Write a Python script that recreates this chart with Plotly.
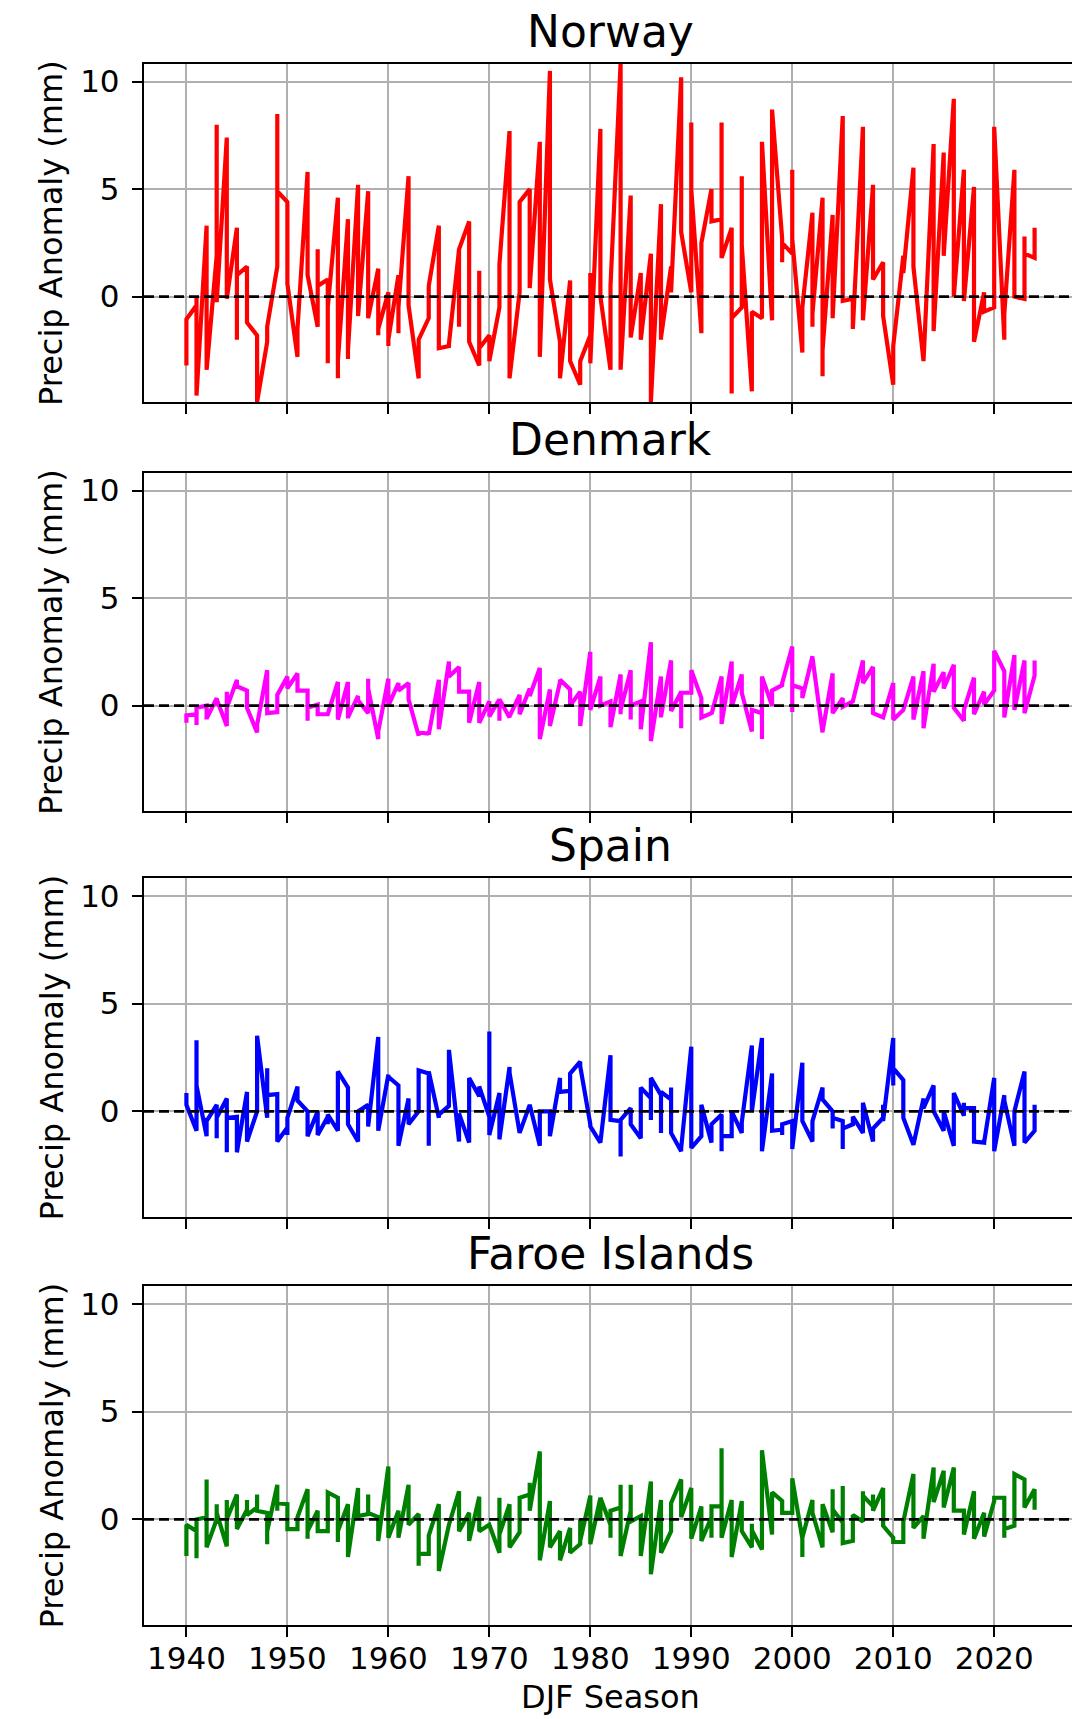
import plotly.graph_objects as go

# ---------------- data (three DJF months per season) ----------------
YEARS = list(range(1940, 2025))
COUNTRIES = ["Norway", "Denmark", "Spain", "Faroe Islands"]
COLORS = ["#ff0000", "#ff00ff", "#0000ff", "#008000"]
X_TICKS = [1940, 1950, 1960, 1970, 1980, 1990, 2000, 2010, 2020]
Y_TICKS = [0, 5, 10]

norway = [
    [-3.2, -2.4, -1.05], [-0.4, 0.0, -4.6], [3.3, 1.0, -3.4], [1.9, 8.0, -0.25], [7.4, 0.3, -0.1],
    [3.2, -2.0, 1.0], [1.4, 0.5, -1.2], [-1.8, -4.9, -4.9], [-2.1, -1.4, -1.4], [1.4, 8.5, 4.9],
    [4.4, 0.8, 0.6], [-2.8, -2.2, -1.5], [5.8, 1.0, 1.0], [-1.4, 2.2, 0.5], [0.8, -3.1, -0.5],
    [4.6, -3.8, -3.0], [3.6, -2.9, -2.5], [5.2, -0.9, -0.9], [4.9, -1.0, -1.0], [1.3, -1.8, -1.5],
    [0.2, -2.3, -2.0], [1.0, -1.7, -0.5], [5.6, -0.4, -0.4], [-3.8, -3.8, -2.0], [-1.0, 0.0, 0.5],
    [3.3, -2.4, -2.4], [-2.3, -2.2, -2.2], [2.2, -1.4, 2.2], [3.5, -2.1, -2.1], [-3.2, 1.2, -2.4],
    [-1.8, -2.0, -3.0], [-0.5, 0.8, 1.5], [7.7, -3.8, -3.8], [0.2, 2.4, 4.4], [5.0, 0.4, 0.4],
    [7.2, -2.8, -2.8], [10.5, 3.0, 0.8], [-2.1, -3.8, -3.8], [0.75, -3.0, -3.0], [-4.1, -4.1, -3.0],
    [-1.8, 1.1, -3.1], [7.8, 2.0, 0.0], [-3.4, -1.0, 0.5], [10.85, 2.0, -3.4], [4.7, -1.9, -1.9],
    [1.1, -2.0, -2.0], [2.0, -4.9, -4.9], [4.3, -2.0, -1.9], [1.4, 0.5, 0.2], [10.2, 6.0, 3.0],
    [0.2, 8.1, 5.0], [-1.7, 0.5, 2.5], [5.0, 3.5, 3.5], [3.6, 8.1, 1.8], [3.2, -4.5, -1.0],
    [-0.5, 5.6, 2.4], [-4.4, -0.7, -0.7], [-1.0, 7.2, 7.2], [-1.1, 8.7, 8.7], [2.7, 1.6, 2.5],
    [2.0, 5.9, 2.7], [-2.6, -2.6, -0.5], [3.9, -1.4, -0.8], [4.6, -3.7, -2.5], [3.8, -1.0, -1.0],
    [8.4, -0.2, -0.2], [-0.1, -1.5, -1.5], [7.9, -1.1, -1.1], [5.2, 0.8, 0.8], [1.6, -0.9, -0.9],
    [-4.1, -4.1, -2.3], [1.9, 1.1, 1.1], [6.0, 1.4, 1.4], [-3.0, -2.5, -3.0], [7.1, -1.6, -1.6],
    [6.7, 1.9, 1.9], [9.2, 0.0, 0.0], [5.9, -0.2, -0.2], [5.1, -2.1, -2.1], [0.2, -0.7, -0.7],
    [-0.5, 7.9, 7.9], [-2.0, -1.0, -0.8], [5.9, 2.0, 0.0], [-0.1, 2.8, 2.0], [1.8, 1.8, 3.2],
]

denmark = [
    [-0.8, -0.6, -0.45], [-0.4, -0.9, -0.1], [0.0, -0.65, -0.6], [0.35, 0.0, 0.3], [-0.95, 0.65, -0.1],
    [1.2, 0.9, 0.9], [0.7, 0.5, -0.1], [-1.25, -1.0, -0.9], [1.65, -0.35, -0.35], [-0.3, 0.3, 0.5],
    [1.35, 0.8, 0.8], [1.5, 0.7, 0.7], [0.7, -0.7, -0.1], [0.05, -0.4, -0.4], [-0.4, -0.4, -0.4],
    [1.1, -0.65, -0.65], [1.1, -0.6, -0.55], [0.45, 0.3, 0.25], [-0.35, 1.25, 0.8], [-1.55, -1.55, -1.2],
    [1.25, 0.0, 0.0], [1.05, 0.7, 0.7], [1.05, 0.3, 0.3], [-1.4, -1.25, -1.25], [-1.3, -1.35, -1.35],
    [1.2, -1.1, -1.1], [2.05, 1.35, 1.35], [1.8, 0.65, 0.65], [0.65, -0.8, -0.8], [1.1, -0.8, -0.8],
    [0.2, -0.5, -0.5], [0.3, -0.7, 0.3], [-0.55, -0.5, -0.5], [0.5, -0.4, -0.4], [0.8, 0.45, 0.45],
    [1.75, -1.55, -1.55], [0.75, -0.95, -0.95], [1.1, 1.2, 1.2], [0.75, 0.0, 0.0], [0.65, -0.95, -0.95],
    [2.5, -0.2, -0.2], [1.35, 0.0, 0.0], [0.2, -1.0, -1.0], [1.45, -0.4, -0.2], [1.65, -0.65, 0.0],
    [0.2, -1.1, -1.1], [2.95, -1.65, -1.65], [1.35, -0.55, -0.5], [2.1, -0.25, -0.25], [0.65, -1.05, 0.6],
    [0.6, 1.65, 1.65], [0.35, -0.55, -0.55], [-0.35, -0.4, -0.4], [1.35, -0.85, -0.85], [2.05, -0.05, -0.05],
    [1.45, 0.6, 0.6], [-1.2, -0.2, -0.2], [-0.35, -1.55, 1.35], [0.0, 0.7, 0.7], [0.95, 1.05, 1.05],
    [2.75, -0.3, 0.95], [0.8, 0.35, 0.35], [2.3, 2.0, 2.25], [-1.25, -1.0, -1.2], [1.5, -0.35, -0.35],
    [0.35, 0.0, -0.05], [0.2, 0.2, 0.2], [2.1, 1.05, 1.05], [1.8, -0.35, -0.35], [-0.55, -0.55, -0.55],
    [1.05, -0.65, -0.65], [-0.2, -0.2, -0.2], [1.35, -0.65, -0.65], [1.6, -1.05, -1.05], [1.95, 0.65, 0.65],
    [1.55, 0.8, 0.8], [1.9, -0.1, -0.1], [-0.7, -0.2, -0.2], [1.3, -0.4, -0.4], [0.65, 0.05, 0.05],
    [0.7, 2.55, 2.55], [1.6, -0.55, -0.55], [2.35, -0.2, -0.2], [2.1, -0.35, -0.35], [1.4, 1.4, 2.1],
]

spain = [
    [0.85, 0.5, 0.3], [-0.9, 3.3, 1.2], [-1.15, -0.3, -0.45], [0.3, -1.25, -0.3], [0.6, -1.9, -0.3],
    [-0.25, -1.9, -1.9], [0.9, -1.4, -1.4], [0.0, 3.5, 3.5], [-0.3, 2.0, 0.75], [0.8, -1.4, -1.4],
    [-0.75, -1.1, -0.3], [1.15, 0.8, 0.5], [0.0, -1.15, -1.15], [0.0, -1.1, -1.1], [-0.25, -0.6, -0.15],
    [-0.9, -0.5, 1.85], [1.1, 1.05, -0.6], [-1.4, -1.4, 0.0], [0.3, -0.7, -0.7], [3.45, -0.9, -0.9],
    [1.7, 1.6, 1.6], [1.2, -1.6, -1.6], [0.6, -0.6, -0.6], [0.0, 1.9, 1.9], [1.75, -1.6, 1.85],
    [-0.3, -0.15, -0.15], [0.25, 2.85, 2.85], [-1.4, -0.1, -0.1], [-1.45, 1.55, 1.55], [0.7, 1.15, 1.15],
    [-0.25, 3.7, -1.1], [0.85, -1.3, -1.3], [2.05, 2.0, 1.8], [-1.0, -1.0, -1.0], [0.3, 0.3, 0.3],
    [-1.6, -1.6, 0.0], [0.0, -1.15, -1.15], [1.55, 1.0, 0.9], [0.95, 0.0, 1.75], [2.3, 2.1, 2.1],
    [-0.6, -0.6, -0.7], [-1.45, -1.45, -1.45], [2.6, -0.4, -0.4], [-0.45, -2.1, -0.4], [0.15, -0.6, -0.6],
    [-1.25, 1.1, 1.1], [0.6, -0.4, 1.55], [0.75, -1.0, 0.9], [0.55, 1.1, -1.0], [-1.85, -1.7, -1.7],
    [3.0, -1.7, -1.7], [-1.15, 0.3, 0.3], [-1.45, -0.6, -0.6], [-0.15, -1.85, -1.15], [-1.15, 0.0, 0.0],
    [-1.0, -0.5, -0.5], [3.05, 2.0, 0.0], [3.4, -1.85, -1.85], [1.75, -0.9, -0.9], [-0.85, -1.1, -0.6],
    [-0.45, -1.75, -1.75], [2.25, -0.45, -0.45], [-1.4, -0.45, -0.45], [1.1, 0.55, 0.55], [0.0, -0.8, -0.3],
    [-0.45, -1.75, -0.8], [-0.6, -0.25, -0.25], [-1.0, 0.4, 0.4], [-1.4, -0.8, -0.8], [-0.3, 0.3, -0.45],
    [3.4, 1.2, 2.0], [1.45, -0.3, -0.3], [-1.55, -1.55, -1.55], [0.6, 0.15, 0.15], [1.2, 0.0, 0.0],
    [-0.9, 0.0, 0.0], [-1.6, 0.85, 0.85], [-0.2, 0.4, 0.15], [0.15, -1.4, -1.4], [-1.45, -1.3, -1.45],
    [1.55, -1.85, -1.85], [0.75, 0.75, 0.5], [-1.6, 0.0, 0.0], [1.85, -1.45, -1.45], [-0.9, 0.3, 0.3],
]

faroe = [
    [-1.7, -0.25, -0.25], [-0.55, -1.8, 0.0], [0.1, 1.85, -1.3], [0.0, 0.7, 0.3], [-1.25, 0.9, 0.0],
    [1.15, -0.45, -0.45], [0.45, 0.9, 0.2], [0.55, 1.15, 0.4], [0.3, -1.15, -0.55], [1.6, 0.4, 0.75],
    [0.7, -0.45, -0.45], [-0.45, 0.1, 0.1], [1.4, -0.9, -0.55], [0.4, -0.55, -0.55], [-0.55, 1.25, 1.25],
    [1.0, -1.05, -0.55], [0.7, -1.75, -1.75], [1.45, 0.15, 0.15], [0.25, 1.15, 0.3], [0.1, -1.0, -1.0],
    [2.45, -0.85, -0.85], [0.4, -0.85, -0.85], [1.6, -0.25, -0.25], [0.25, -2.15, -1.6], [-1.6, -0.75, -0.75],
    [0.7, -2.4, -2.4], [-0.25, -0.25, -0.25], [1.3, -0.55, -0.55], [0.3, -1.0, -1.0], [1.05, -0.55, -0.55],
    [-0.25, -0.25, -0.25], [-1.55, 1.0, -0.7], [0.7, -1.3, -1.3], [-0.6, 1.0, 1.0], [1.15, 1.7, 0.4],
    [3.15, -1.9, -1.9], [0.85, -1.3, -1.3], [-0.55, -1.9, -1.9], [-0.4, -1.55, -1.55], [-1.15, 0.0, -1.0],
    [1.1, -1.15, -1.15], [1.0, 0.0, 1.0], [-0.25, -0.85, 0.4], [0.55, 1.6, -1.7], [0.4, 1.6, -0.1],
    [0.15, -1.7, -1.7], [1.75, -2.55, -2.55], [0.9, -1.55, -1.55], [-0.55, 0.75, 0.75], [1.85, 0.1, 0.1],
    [1.45, -0.9, -0.9], [0.6, -1.0, -1.0], [0.1, -0.85, 0.6], [0.6, 3.3, -0.85], [0.9, -1.75, -1.75],
    [0.85, -0.55, -0.55], [-1.3, -0.2, -0.5], [-1.4, 3.2, 3.2], [-0.7, 1.25, 1.25], [0.85, 0.3, 0.3],
    [0.3, 1.9, 1.9], [-0.9, -1.75, -0.85], [0.9, 0.3, 0.3], [-1.3, 0.7, 0.7], [-0.6, 1.4, 0.45],
    [-0.15, 1.55, -1.1], [-1.0, 0.2, 0.2], [-0.1, 1.3, 1.1], [0.6, 1.15, 0.4], [1.45, -0.3, -0.3],
    [-0.85, -1.05, -1.05], [-1.05, -0.1, -0.1], [2.1, -0.4, -0.4], [0.15, -0.9, -0.9], [2.4, 1.1, 0.8],
    [2.25, 0.55, 0.55], [2.4, 1.0, 0.4], [0.4, -0.7, -0.7], [1.3, -0.9, -0.9], [0.3, -0.8, -0.8],
    [0.85, 1.0, 1.0], [1.0, -0.85, -0.45], [-0.3, 2.1, 2.1], [1.85, 0.55, 0.55], [1.4, 1.4, 0.45],
]

SERIES = [norway, denmark, spain, faroe]

# ---------------- layout geometry ----------------
# The page body has an 8px default margin, so the figure is shifted by OFF.
OFF = 8
W, H = 1080 - OFF, 1719 - OFF
# target page-pixel positions (reference), converted to figure pixels below
ML, MR, MT, MB = 144 - OFF, 3, 64 - OFF, 1719 - 1625
PW, PH = W - ML - MR, H - MT - MB
PANELS = [(64, 402), (473, 811), (878, 1217), (1286, 1625)]  # page pixels top/bottom
FONT = "DejaVu Sans"


def py(pix):
    # page pixel y -> paper fraction
    return (H - MB - (pix - OFF)) / PH


def px(pix):
    return (pix - OFF - ML) / PW


fig = go.Figure()
annotations = []
shapes = []

x_all = [y for y in YEARS for _ in range(3)]

for i, (name, color, vals) in enumerate(zip(COUNTRIES, COLORS, SERIES)):
    n = i + 1
    xa = "x" if n == 1 else f"x{n}"
    ya = "y" if n == 1 else f"y{n}"
    y_all = [v for trip in vals for v in trip]
    fig.add_trace(go.Scatter(x=x_all, y=y_all, mode="lines",
                             line=dict(color=color, width=4.2),
                             xaxis=xa, yaxis=ya, showlegend=False,
                             cliponaxis=True))
    top, bot = PANELS[i]
    dom = [py(bot), py(top)]
    axis_common = dict(showline=True, linecolor="black", linewidth=2.4, mirror=True,
                       showgrid=True, gridcolor="#b0b0b0", gridwidth=2,
                       ticks="outside", ticklen=10, tickwidth=2.4, tickcolor="black",
                       zeroline=False, automargin=False,
                       tickfont=dict(family=FONT, size=31, color="black"))
    fig.layout[f"xaxis{'' if n == 1 else n}"] = dict(
        axis_common, domain=[0, 1], anchor=ya, range=[1935.8, 2028.2],
        tickmode="array", tickvals=X_TICKS, ticktext=[str(t) for t in X_TICKS],
        showticklabels=(n == 4), ticklabelstandoff=-5,
        matches=None if n == 1 else "x")
    fig.layout[f"yaxis{'' if n == 1 else n}"] = dict(
        axis_common, domain=dom, anchor=xa, range=[-4.9, 10.82],
        tickmode="array", tickvals=Y_TICKS, ticktext=[str(t) for t in Y_TICKS],
        ticklabelstandoff=6)
    # dashed zero line
    shapes.append(dict(type="line", xref=f"{xa} domain", yref=ya, x0=0, x1=1, y0=0, y1=0,
                       line=dict(color="black", width=2.6, dash="10px,5px"), layer="above"))
    # title
    annotations.append(dict(text=name, xref="paper", yref="paper", x=0.5, y=py(top - 33),
                            xanchor="center", yanchor="middle", showarrow=False,
                            font=dict(family=FONT, size=44, color="black")))
    # y label
    annotations.append(dict(text="Precip Anomaly (mm)", xref="paper", yref="paper",
                            x=px(51), y=py((top + bot) / 2), textangle=-90,
                            xanchor="center", yanchor="middle", showarrow=False,
                            font=dict(family=FONT, size=32, color="black")))

annotations.append(dict(text="DJF Season", xref="paper", yref="paper", x=0.5, y=py(1697),
                        xanchor="center", yanchor="middle", showarrow=False,
                        font=dict(family=FONT, size=32, color="black")))

fig.update_layout(width=W, height=H, margin=dict(l=ML, r=MR, t=MT, b=MB, pad=0),
                  paper_bgcolor="white", plot_bgcolor="white",
                  annotations=annotations, shapes=shapes, showlegend=False,
                  font=dict(family=FONT, color="black"))

fig.write_html("out.html")
